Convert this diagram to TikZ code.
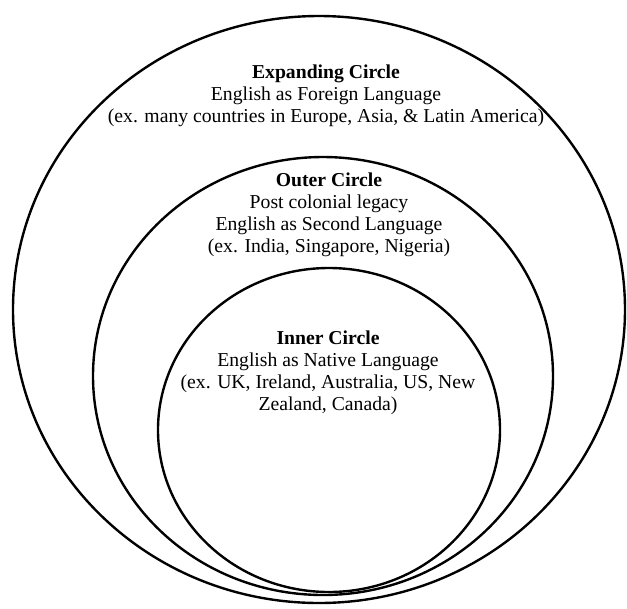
\documentclass[tikz,border=0pt]{standalone}
\usepackage{fontspec}
\setmainfont{Liberation Serif}
\def\ringWidth{1.7pt}
\def\bigFont{\fontsize{14}{15.7}\selectfont}

\begin{document}
\begin{tikzpicture}[
    x=0.025cm, y=-0.025cm,
    ring/.style={draw, line width=\ringWidth},
    every node/.style={align=center, inner sep=0pt, font=\bigFont}
]
\useasboundingbox (0,0) rectangle (627,608);
% centres of the three rings
\coordinate (expandC) at (319,309.5);
\coordinate (outerC) at (323,376);
\coordinate (innerC) at (329,430);
\draw[ring] (expandC) ellipse [x radius=306, y radius=293.5];
\draw[ring] (outerC) ellipse [x radius=230, y radius=219];
\draw[ring] (innerC) ellipse [x radius=171, y radius=162];

\node (expand) at (326,96) {\textbf{Expanding Circle}\\
English as Foreign Language\\
(ex. many countries in Europe, Asia, \& Latin America)};
\node (outer) at (329,215) {\textbf{Outer Circle}\\
Post colonial legacy\\
English as Second Language\\
(ex. India, Singapore, Nigeria)};
\node (inner) at (328,373) {\textbf{Inner Circle}\\
English as Native Language\\
(ex. UK, Ireland, Australia, US, New\\
Zealand, Canada)};
\end{tikzpicture}
\end{document}
